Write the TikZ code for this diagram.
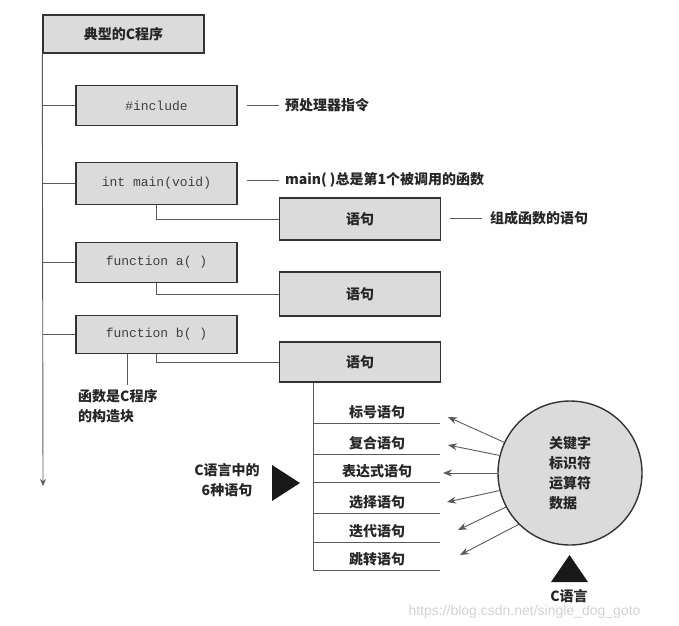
\documentclass[tikz,border=0pt]{standalone}
\usepackage{fontspec}
\setmainfont{Liberation Sans}
\setmonofont{Liberation Mono}
\newfontfamily\cjk{Noto Sans CJK SC}
\usetikzlibrary{arrows}
\usetikzlibrary{arrows.meta}

\begin{document}
\begin{tikzpicture}[x=1pt,y=-1pt]
				\tikzset{box/.style={draw=black!80, line width=1.4pt, fill=black!14, minimum width=161pt, minimum height=40pt, inner sep=0pt}}
				\tikzset{code/.style={box, font=\ttfamily\fontsize{13}{15}\selectfont, text=black!75}}
				\tikzset{zh/.style={font=\cjk\bfseries\fontsize{14}{20}\selectfont, text=black!85, inner sep=1pt}}
				\tikzset{link/.style={draw=black!65, line width=0.9pt}}
				\tikzset{tip/.style={-{Stealth[length=9pt,width=7pt]}}}
				\useasboundingbox (0,0) rectangle (679,625);
				%boxes
				\node[box, zh, minimum height=38pt] (title) at (123.5,34) {典型的C程序};
				\node[code] (inc) at (156.5,105.5) {\#include};
				\node[code, minimum height=42pt] (main) at (156.5,183.5) {int main(void)};
				\node[code] (fa) at (156.5,262.5) {function a( )};
				\node[code, minimum height=38pt] (fb) at (156.5,334.5) {function b( )};
				\node[box, zh, minimum height=42pt] (s1) at (360,219) {语句};
				\node[box, zh, minimum height=44pt] (s2) at (360,294) {语句};
				\node[box, zh] (s3) at (360,362) {语句};
				%notes
				\node[zh, anchor=west] (incnote) at (284,105) {预处理器指令};
				\node[zh, anchor=west] (mainnote) at (284,180) {main( )总是第1个被调用的函数};
				\node[zh, anchor=west] (s1note) at (489,218) {组成函数的语句};
				\node[zh, align=left, anchor=north west] (fbnote) at (77,388) {函数是C程序\\的构造块};
				\draw[link] ([xshift=-5pt]incnote.west) -- ++(-32,0);
				\draw[link] ([xshift=-5pt]mainnote.west) -- ++(-32,0);
				\draw[link] ([xshift=-7pt]s1note.west) -- ++(-32,0);
				\coordinate (fbtick) at (127,385);
				\draw[link] (fbtick) -- (fbtick |- fb.south);
				%trunk
				\coordinate (trunkend) at (43,486);
				\draw[link, -{Stealth[length=7pt,width=6pt]}] (title.south west) -- (trunkend);
				\foreach \n in {inc, main, fa, fb}
					\draw[link] (\n.west) -- (\n.west -| trunkend);
				\foreach \a/\b in {main/s1, fa/s2, fb/s3}
					\draw[link] (\a.south) |- (\b.west);
				%list
				\coordinate (listtop) at ([xshift=-47pt]s3.south);
				\coordinate (listend) at (313,570);
				\draw[link] (listtop) -- (listend);
				\foreach \y/\name/\txt in {423/st1/标号语句, 454/st2/复合语句, 482/st3/表达式语句, 513/st4/选择语句, 542/st5/迭代语句, 570/st6/跳转语句}{
					\draw[link] (313,\y) -- (440,\y);
					\node[zh] (\name) at (377,\y-11) {\txt};
				}
				\fill[black!90] (272,465) -- (300,483) -- (272,501) -- cycle;
				\node[zh, align=center] (sixnote) at (227,480) {C语言中的\\6种语句};
				%language
				\node[circle, draw=black!80, line width=1.4pt, fill=black!14, minimum size=144pt, zh, align=left] (lang) at (570,473) {关键字\\标识符\\运算符\\数据};
				\foreach \i/\ang/\tx/\ty in {1/155/448/417, 2/166/448/445, 3/180/443/473, 4/194/447/502, 5/208/458/530, 6/225/460/555}{
					\coordinate (tip\i) at (\tx,\ty);
					\draw[link, tip] (lang.\ang) -- (tip\i);
				}
				\fill[black!90] (551,582) -- (569.5,555) -- (588,582) -- cycle;
				\node[zh] (langnote) at (569,596) {C语言};
				\node[text=black!18, font=\fontsize{14}{16}\selectfont, anchor=west] (mark) at (405,612) {https://blog.csdn.net/single\_dog\_goto};
				\end{tikzpicture}
\end{document}
